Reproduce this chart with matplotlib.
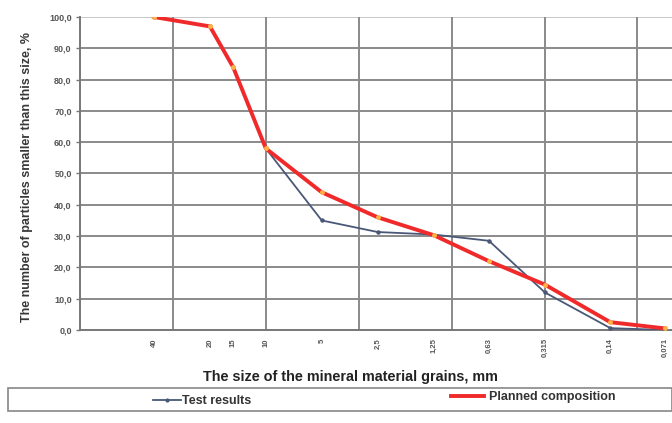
import matplotlib.pyplot as plt
from matplotlib.patches import Rectangle
from matplotlib.lines import Line2D

# --- Data ---
sizes = [40, 20, 15, 10, 5, 2.5, 1.25, 0.63, 0.315, 0.14, 0.071]
size_labels = ["40", "20", "15", "10", "5", "2,5", "1,25", "0,63", "0,315", "0,14", "0,071"]
test_results = [100, 97, 84, 58, 35, 31.3, 30.5, 28.5, 12, 0.6, 0]
planned = [100, 97, 84, 58, 44, 36, 30.3, 22, 14.5, 2.5, 0.5]
y_ticks = [0, 10, 20, 30, 40, 50, 60, 70, 80, 90, 100]
x_grid = [10 ** 1.5, 10, 10 ** 0.5, 1, 10 ** -0.5, 0.1]

TEST_COLOR = "#4a5878"
PLAN_COLOR = "#f02a2a"
GRID_COLOR = "#8a8a8a"

plt.rcParams['font.family'] = ['Liberation Sans', 'DejaVu Sans']

fig = plt.figure(figsize=(6.72, 4.23), dpi=100)
ax = fig.add_axes([80 / 672, 93 / 423, 592 / 672, 313 / 423])

ax.set_xscale("log")
ax.set_xlim(100, 0.0652)
ax.set_ylim(0, 100)

# grid
for v in y_ticks[1:]:
    ax.axhline(v, color=GRID_COLOR if v < 100 else "#c8c8c8", lw=1.4, zorder=1)
for g in x_grid:
    ax.axvline(g, color=GRID_COLOR, lw=1.4, zorder=1)

ax.plot(sizes, test_results, color=TEST_COLOR, lw=1.3, marker="o", ms=2.2, zorder=3)
ax.plot(sizes, planned, color=PLAN_COLOR, lw=2.8, marker="o", ms=2.5,
        mfc="#ffb347", mec="#ffb347", zorder=4)

ax.set_yticks(y_ticks)
ax.set_yticklabels([f"{v},0" for v in y_ticks], fontsize=6.5, color="#555555",
                   fontweight="bold")
ax.set_xticks(sizes)
ax.set_xticklabels(size_labels, rotation=90, fontsize=5.5, color="#555555",
                   fontweight="bold")
ax.minorticks_off()
ax.tick_params(axis="x", length=0, pad=6)
ax.tick_params(axis="y", length=3, width=1, color="#777777", pad=3)

for s in ["top", "right"]:
    ax.spines[s].set_visible(False)
for s in ["left", "bottom"]:
    ax.spines[s].set_color("#777777")
    ax.spines[s].set_linewidth(1.4)

fig.text(27 / 672, 1 - 177 / 423, "The number of particles smaller than this size, %",
         rotation=90, ha="center", va="center",
         fontsize=9, fontweight="bold", color="#383838")
fig.text(350 / 672, 1 - 377 / 423, "The size of the mineral material grains, mm",
         ha="center", va="center", fontsize=10.4, fontweight="bold", color="#222222")

# legend box
fig.add_artist(Rectangle((8 / 672, 1 - 411 / 423), 664 / 672, 23 / 423,
                         transform=fig.transFigure, fill=False,
                         edgecolor="#888888", lw=1.2))
h1 = Line2D([], [], color=TEST_COLOR, lw=1.3, marker="o", ms=2)
h2 = Line2D([], [], color=PLAN_COLOR, lw=2.8)
fig.legend([h1], ["Test results"], loc="center left",
           bbox_to_anchor=(142 / 672, 1 - 401 / 423), frameon=False,
           prop={"size": 9, "weight": "bold"}, labelcolor="#333333",
           handlelength=2.2, handletextpad=0.1)
fig.legend([h2], ["Planned composition"], loc="center left",
           bbox_to_anchor=(440 / 672, 1 - 397 / 423), frameon=False,
           prop={"size": 9, "weight": "bold"}, labelcolor="#333333",
           handlelength=2.6, handletextpad=0.4)

fig.savefig("out.png", dpi=100)
